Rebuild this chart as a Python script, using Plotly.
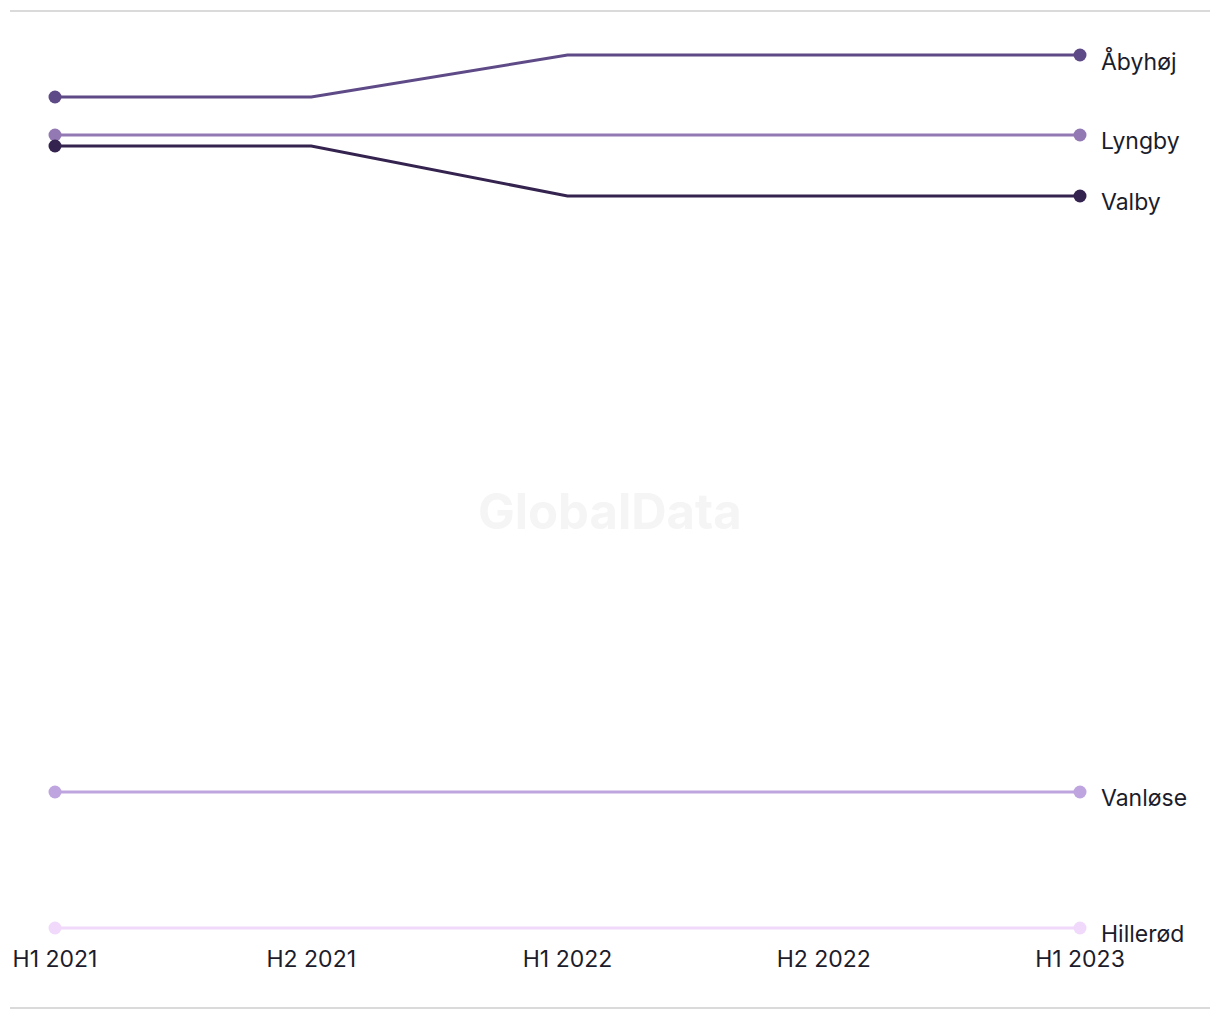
import plotly.graph_objects as go

periods = ["H1 2021", "H2 2021", "H1 2022", "H2 2022", "H1 2023"]
series_names = ["Åbyhøj", "Lyngby", "Valby", "Vanløse", "Hillerød"]
abyhoj = [90.3, 90.3, 94.5, 94.5, 94.5]
lyngby = [86.5, 86.5, 86.5, 86.5, 86.5]
valby = [85.4, 85.4, 80.4, 80.4, 80.4]
vanlose = [20.8, 20.8, 20.8, 20.8, 20.8]
hillerod = [7.2, 7.2, 7.2, 7.2, 7.2]
series_values = [abyhoj, lyngby, valby, vanlose, hillerod]
colors = ["#5e4a86", "#9379b4", "#35234f", "#bea5e0", "#f0d9fa"]

FONT = "Inter, Liberation Sans, sans-serif"
TEXT = "#1c1c2b"

fig = go.Figure()
x_idx = list(range(len(periods)))
n = len(periods)
order = [4, 3, 0, 1, 2]
for i in order:
    fig.add_trace(go.Scatter(
        x=x_idx, y=series_values[i], mode="lines",
        line=dict(color=colors[i], width=3),
        showlegend=False, hoverinfo="skip", name=series_names[i],
    ))
    fig.add_trace(go.Scatter(
        x=[x_idx[0], x_idx[-1]], y=[series_values[i][0], series_values[i][-1]],
        mode="markers", opacity=1,
        marker=dict(color=colors[i], size=13, opacity=1, line=dict(width=0)),
        cliponaxis=False, showlegend=False, hoverinfo="skip",
    ))
    fig.add_annotation(
        x=x_idx[-1], y=series_values[i][-1], xref="x", yref="y",
        text=series_names[i], showarrow=False, xanchor="left", yanchor="middle",
        xshift=19, yshift=-6, font=dict(family=FONT, size=23, color=TEXT),
    )

L, R, T, B = 55, 140, 53, 90
W, H = 1220, 1020
pw, ph = W - L - R, H - T - B
def px_to_paper_x(px):
    return (px - L) / pw
def py_to_paper_y(py):
    return (H - B - py) / ph

fig.add_annotation(
    x=px_to_paper_x(610), y=py_to_paper_y(512), xref="paper", yref="paper",
    text="<b>GlobalData</b>",
    showarrow=False, font=dict(family=FONT, size=49, color="#f5f5f5"),
    xanchor="center", yanchor="middle",
)

for py in (11, 1008):
    fig.add_shape(type="line", xref="paper", yref="paper",
                  x0=px_to_paper_x(10), x1=px_to_paper_x(1210),
                  y0=py_to_paper_y(py), y1=py_to_paper_y(py),
                  line=dict(color="#dadada", width=2), layer="below")

fig.update_layout(
    width=W, height=H, margin=dict(l=L, r=R, t=T, b=B),
    paper_bgcolor="white", plot_bgcolor="white",
    hovermode=False,
    font=dict(family=FONT, color=TEXT),
    xaxis=dict(range=[0, n - 1], tickvals=x_idx, ticktext=periods,
               showgrid=False, zeroline=False, showline=False,
               ticks="outside", ticklen=8, tickcolor="rgba(0,0,0,0)",
               tickfont=dict(family=FONT, size=23, color=TEXT), fixedrange=True),
    yaxis=dict(range=[7.0, 94.7], showgrid=False, zeroline=False,
               showline=False, showticklabels=False, fixedrange=True),
)

fig.write_html("out.html")
